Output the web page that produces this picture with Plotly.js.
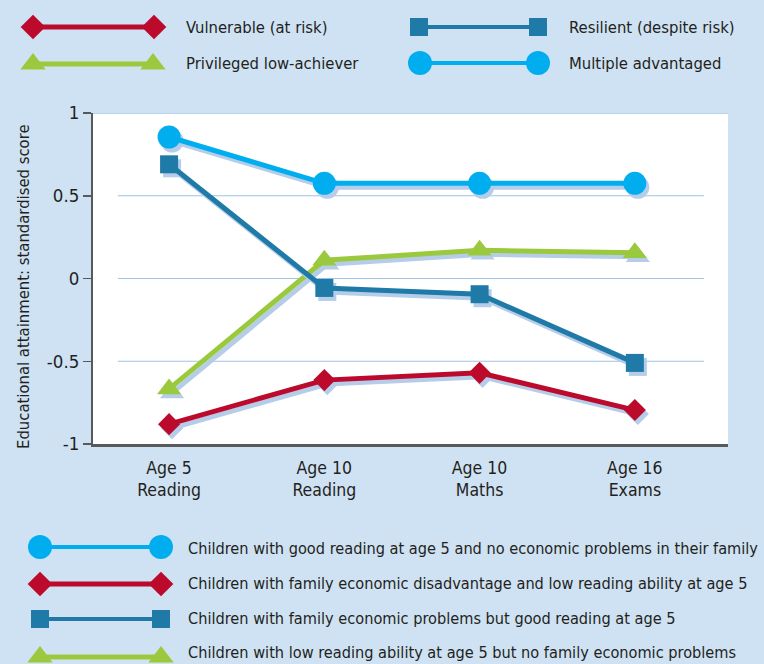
<!DOCTYPE html>
<html>
<head>
<meta charset="utf-8">
<script src="https://cdn.plot.ly/plotly-3.0.1.min.js"></script>
<style>
  html, body { margin: 0; padding: 0; background: #cfe2f3; }
  #chart { width: 764px; height: 664px; }
</style>
</head>
<body>
<div id="chart"></div>
<script>
// ---- data ----
var categories = ["Age 5<br>Reading", "Age 10<br>Reading", "Age 10<br>Maths", "Age 16<br>Exams"];
var multipleAdvantaged = [0.855, 0.575, 0.575, 0.575];
var resilient = [0.69, -0.057, -0.095, -0.51];
var privilegedLowAchiever = [-0.667, 0.11, 0.17, 0.155];
var vulnerable = [-0.88, -0.614, -0.57, -0.795];

var yTickVals = [1, 0.5, 0, -0.5, -1];
var yTickText = ["1", "0.5", "0", "-0.5", "-1"];
var yTitle = "Educational attainment: standardised score";

var topLegendLabels = ["Vulnerable (at risk)", "Resilient (despite risk)", "Privileged low-achiever", "Multiple advantaged"];
var bottomLegendLabels = [
  "Children with good reading at age 5 and no economic problems in their family",
  "Children with family economic disadvantage and low reading ability at age 5",
  "Children with family economic problems but good reading at age 5",
  "Children with low reading ability at age 5 but no family economic problems"
];

// ---- styles ----
var RED = "#bc0a2d", GREEN = "#9bc93d", DBLUE = "#1f7aa7", LBLUE = "#00aeef";
var BG = "#cfe2f3", GRID = "#9fc4e6", AXIS = "#58595b", TXT = "#231f20";
var FONT = "'DejaVu Sans Condensed', 'Liberation Sans Narrow', sans-serif";
var W = 764, H = 664;

function mainTrace(y, color, symbol, size) {
  return {
    x: categories, y: y, type: "scatter", mode: "lines+markers",
    line: { color: color, width: 5 },
    marker: { color: color, symbol: symbol, size: size },
    cliponaxis: false, hoverinfo: "skip", showlegend: false,
    xaxis: "x", yaxis: "y"
  };
}

var traces = [
  mainTrace(privilegedLowAchiever, GREEN, "triangle-up", 21),
  mainTrace(vulnerable, RED, "diamond", 17),
  mainTrace(resilient, DBLUE, "square", 18),
  mainTrace(multipleAdvantaged, LBLUE, "circle", 23)
];

// legend samples (layout decoration, pixel coordinates on overlay axes)
function legendSample(x0, x1, yy, color, symbol, size, width) {
  return {
    x: [x0, x1], y: [yy, yy], type: "scatter", mode: "lines+markers",
    line: { color: color, width: width },
    marker: { color: color, symbol: symbol, size: size },
    cliponaxis: false, hoverinfo: "skip", showlegend: false,
    xaxis: "x2", yaxis: "y2"
  };
}
traces.push(legendSample(33, 154, 27, RED, "diamond", 19, 5));
traces.push(legendSample(419, 538, 27, DBLUE, "square", 18, 4));
traces.push(legendSample(33, 153, 64, GREEN, "triangle-up", 22, 5));
traces.push(legendSample(420, 538, 63, LBLUE, "circle", 24, 4));

traces.push(legendSample(40, 161, 547, LBLUE, "circle", 24, 4));
traces.push(legendSample(40, 161, 584, RED, "diamond", 19, 5));
traces.push(legendSample(40, 161, 619, DBLUE, "square", 18, 4));
traces.push(legendSample(40, 161, 657, GREEN, "triangle-up", 22, 5));

var annotations = [];
function txt(x, y, s, size) {
  annotations.push({
    xref: "x2", yref: "y2", x: x, y: y, text: s, showarrow: false,
    xanchor: "left", yanchor: "middle",
    font: { family: FONT, size: size, color: TXT }
  });
}
txt(184, 27, topLegendLabels[0], 16.5);
txt(567, 27, topLegendLabels[1], 16.5);
txt(184, 63, topLegendLabels[2], 16.5);
txt(567, 63, topLegendLabels[3], 16.5);
for (var i = 0; i < bottomLegendLabels.length; i++) {
  txt(186, [548, 583, 618, 652][i], bottomLegendLabels[i], 16.2);
}
annotations.push({
  xref: "x2", yref: "y2", x: 23, y: 287, text: yTitle, showarrow: false,
  textangle: -90, xanchor: "center", yanchor: "middle",
  font: { family: FONT, size: 16.5, color: TXT }
});

var shapes = [
  { type: "rect", xref: "x domain", yref: "y domain", x0: 0, x1: 1, y0: 0, y1: 1,
    fillcolor: "#ffffff", line: { width: 0 }, layer: "below" },
  { type: "line", xref: "x domain", yref: "y", x0: 0, x1: 1, y0: 1, y1: 1,
    line: { color: GRID, width: 1.5 }, layer: "below" }
];
[0.5, 0, -0.5].forEach(function (v) {
  shapes.push({ type: "line", xref: "x", yref: "y", x0: -0.33, x1: 3.445, y0: v, y1: v,
    line: { color: GRID, width: 1.2 }, layer: "below" });
});

var layout = {
  width: W, height: H,
  margin: { l: 0, r: 0, t: 0, b: 0 },
  paper_bgcolor: BG, plot_bgcolor: "rgba(0,0,0,0)",
  font: { family: FONT, color: TXT },
  showlegend: false,
  xaxis: {
    domain: [93 / W, 728 / W], type: "category", range: [-0.49, 3.6],
    showgrid: false, zeroline: false, showline: true, linecolor: AXIS, linewidth: 2.5,
    ticks: "", ticklabelstandoff: 6, tickfont: { family: FONT, size: 17.5, color: TXT }, automargin: false,
    fixedrange: true
  },
  yaxis: {
    domain: [1 - 444 / H, 1 - 113 / H], range: [-1, 1],
    tickvals: yTickVals, ticktext: yTickText,
    showgrid: false, zeroline: false, showline: true, linecolor: AXIS, linewidth: 2,
    ticks: "outside", ticklen: 8, tickwidth: 1.5, tickcolor: AXIS,
    tickfont: { family: FONT, size: 18.5, color: TXT }, automargin: false,
    fixedrange: true
  },
  xaxis2: { domain: [0, 1], range: [0, W], visible: false, anchor: "y2", fixedrange: true },
  yaxis2: { domain: [0, 1], range: [H, 0], visible: false, anchor: "x2", fixedrange: true },
  shapes: shapes,
  annotations: annotations
};

Plotly.newPlot("chart", traces, layout, { staticPlot: true, displayModeBar: false }).then(function (gd) {
  var groups = gd.querySelectorAll(".subplot.xy .scatterlayer .trace");
  groups.forEach(function (g) {
    g.style.filter = "drop-shadow(3px 4px 0px #b5cde9)";
  });
});
</script>
</body>
</html>
